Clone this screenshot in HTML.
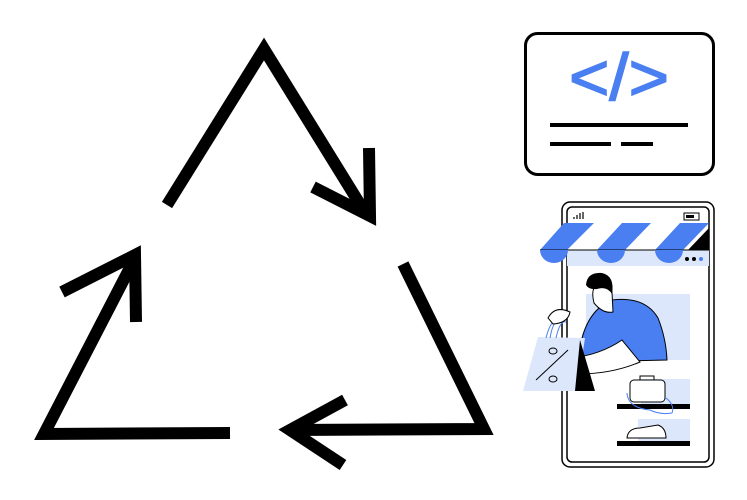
<!DOCTYPE html>
<html><head><meta charset="utf-8"><style>
html,body{margin:0;padding:0;background:#fff;width:747px;height:500px;overflow:hidden}
</style></head><body>
<svg width="747" height="500" viewBox="0 0 747 500" xmlns="http://www.w3.org/2000/svg">
<g fill="none" stroke="#000" stroke-width="12" stroke-linejoin="miter" stroke-linecap="butt">
  <polyline points="167,205 264,49 366,214"/>
  <polyline points="369,148 370,216 313,187"/>
  <polyline points="403,264 484,429 290,430"/>
  <polyline points="345,400 290,430 343,465"/>
  <polyline points="230,433 44,434 135,258"/>
  <polyline points="62,292 135,255 136,322"/>
</g>
<!-- code card -->
<rect x="525.5" y="33.5" width="188" height="141" rx="12" fill="#fff" stroke="#000" stroke-width="3"/>
<text x="619" y="100" font-family="'Liberation Sans',sans-serif" font-size="66" fill="#4a7ff2" text-anchor="middle" textLength="100" lengthAdjust="spacingAndGlyphs" stroke="#4a7ff2" stroke-width="1.5">&lt;/&gt;</text>
<g stroke="#000" stroke-width="4">
  <line x1="550" y1="125" x2="688" y2="125"/>
  <line x1="550" y1="144" x2="611" y2="144"/>
  <line x1="621" y1="144" x2="653" y2="144"/>
</g>
<!-- phone -->
<rect x="562" y="202" width="152" height="265" rx="8" fill="#fff" stroke="#000" stroke-width="1.5"/>
<rect x="567" y="207" width="142" height="255" rx="5" fill="#fff" stroke="#000" stroke-width="1.5"/>
<g stroke="#000" stroke-width="1.2"><line x1="574" y1="219" x2="574" y2="217"/><line x1="577" y1="219" x2="577" y2="215"/><line x1="580" y1="219" x2="580" y2="213"/><line x1="583" y1="219" x2="583" y2="212"/></g>
<rect x="684" y="213" width="15" height="7" fill="none" stroke="#000" stroke-width="1"/>
<rect x="686" y="215" width="8" height="3" fill="#000"/>
<!-- awning -->
<rect x="567" y="250" width="142" height="16" fill="#dde7fb"/>
<polygon points="540,250 564,223 594,223 567,250" fill="#4a7ff2"/>
<polygon points="597,250 622,223 651,223 625,250" fill="#4a7ff2"/>
<polygon points="655,250 680,223 709,223 683,250" fill="#4a7ff2"/>
<polygon points="688,250 709,228 709,250" fill="#000"/>
<line x1="540" y1="250" x2="709" y2="250" stroke="#000" stroke-width="1"/>
<path d="M540,250 h28 a14,13 0 0 1 -28,0z" fill="#4a7ff2"/>
<path d="M597,250 h28 a14,13 0 0 1 -28,0z" fill="#4a7ff2"/>
<path d="M655,250 h28 a14,13 0 0 1 -28,0z" fill="#4a7ff2"/>
<circle cx="687" cy="259" r="2" fill="#000"/><circle cx="694" cy="259" r="2" fill="#000"/><circle cx="701" cy="259" r="2" fill="#4a7ff2"/>
<!-- shopper -->
<rect x="586" y="294" width="104" height="66" fill="#dde7fb"/>
<path d="M578,362 Q582,312 612,300 Q645,296 658,318 Q666,338 667,360 Z" fill="#4a7ff2" stroke="#000" stroke-width="1"/>
<path d="M594,303 Q590,287 599,283 Q610,279 612,292 L613,312 Q603,314 594,303Z" fill="#fff" stroke="#000" stroke-width="1"/>
<path d="M586,285 Q587,272 602,273 Q615,276 612,294 Q607,286 597,289 Q589,290 586,285Z" fill="#000"/>
<path d="M571,358 Q600,355 622,340 L640,362 Q612,374 578,374 Z" fill="#fff" stroke="#000" stroke-width="1"/>
<!-- bag -->
<polygon points="538,337 585,338 577,391 523,391" fill="#dde7fb"/>
<polygon points="580,340 595,391 575,391" fill="#000"/>
<path d="M550,338 Q553,320 560,320 M556,338 Q560,320 566,322 M546,338 Q550,322 556,320" stroke="#4a7ff2" stroke-width="1" fill="none"/>
<path d="M548,318 Q555,305 570,312 Q568,323 553,324Z" fill="#fff" stroke="#000" stroke-width="1"/>
<line x1="536" y1="380" x2="568" y2="350" stroke="#000" stroke-width="1"/>
<ellipse cx="553" cy="351" rx="4" ry="3" fill="none" stroke="#000" stroke-width="1"/>
<ellipse cx="553" cy="379" rx="4" ry="3" fill="none" stroke="#000" stroke-width="1"/>
<!-- shelves -->
<rect x="641" y="379" width="49" height="25" fill="#dde7fb"/>
<rect x="617" y="404" width="73" height="5" fill="#000"/>
<rect x="630" y="380" width="35" height="22" rx="4" fill="#fff" stroke="#000" stroke-width="1"/>
<path d="M640,380 v-4 h14 v4" fill="none" stroke="#000" stroke-width="1"/>
<path d="M627,393 Q628,408 650,410 Q660,415 672,413 Q675,405 666,398" fill="none" stroke="#4a7ff2" stroke-width="1"/>
<rect x="638" y="419" width="52" height="22" fill="#dde7fb"/>
<rect x="617" y="441" width="73" height="5" fill="#000"/>
<path d="M627,438 Q628,428 640,428 L658,425 Q666,428 666,438 Z" fill="#fff" stroke="#000" stroke-width="1"/>
</svg>
</body></html>
